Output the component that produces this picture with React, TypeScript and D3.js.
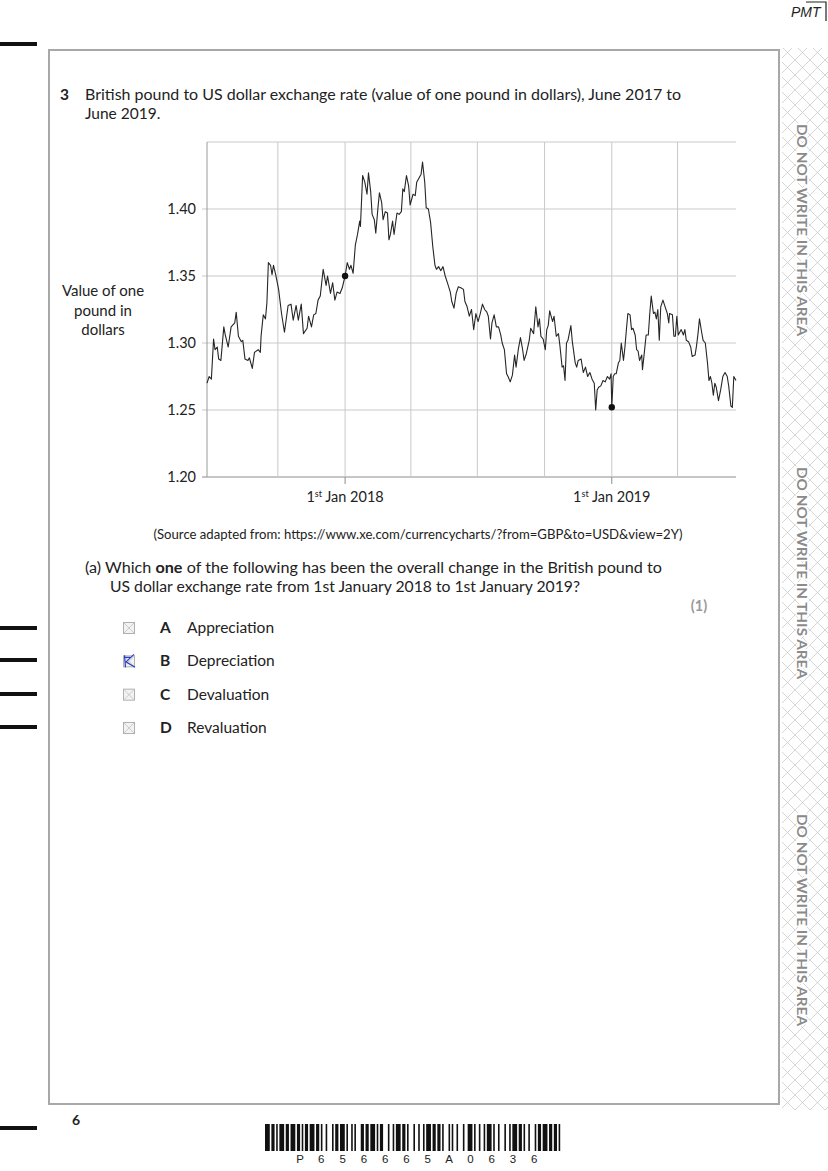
import React from 'react';
import * as d3 from 'd3';

// GBP -> USD, sampled from the xe.com chart: [days after 26 Jun 2017, dollars]
const rates: [number, number][] = [
  [0, 1.27], [3, 1.275], [6, 1.273], [9, 1.303], [11, 1.295], [14, 1.297], [16, 1.288], [19, 1.287],
  [23, 1.312], [25, 1.306], [29, 1.297], [33, 1.312], [38, 1.315], [40, 1.323], [43, 1.305], [47, 1.301],
  [49, 1.302], [52, 1.288], [56, 1.287], [58, 1.289], [62, 1.281], [65, 1.293], [70, 1.295], [73, 1.293],
  [74, 1.305], [77, 1.321], [80, 1.318], [82, 1.33], [84, 1.36], [87, 1.358], [89, 1.351], [91, 1.358],
  [94, 1.351], [98, 1.34], [102, 1.322], [106, 1.308], [111, 1.328], [115, 1.329], [118, 1.317], [122, 1.328],
  [125, 1.317], [129, 1.329], [132, 1.307], [137, 1.311], [139, 1.32], [143, 1.312], [146, 1.321], [149, 1.322],
  [152, 1.332], [155, 1.335], [157, 1.345], [159, 1.355], [163, 1.343], [165, 1.35], [169, 1.337], [172, 1.345],
  [175, 1.332], [178, 1.338], [182, 1.337], [185, 1.341], [189, 1.35], [192, 1.36], [195, 1.355], [197, 1.358],
  [200, 1.352], [203, 1.373], [206, 1.381], [209, 1.391], [210, 1.387], [213, 1.425], [216, 1.42], [219, 1.411],
  [221, 1.427], [224, 1.413], [226, 1.396], [229, 1.392], [231, 1.382], [234, 1.401], [236, 1.412], [239, 1.405],
  [241, 1.392], [244, 1.398], [247, 1.397], [249, 1.377], [251, 1.381], [254, 1.391], [256, 1.381], [260, 1.397],
  [263, 1.396], [266, 1.398], [268, 1.415], [270, 1.413], [273, 1.425], [276, 1.417], [278, 1.403], [282, 1.411],
  [285, 1.41], [287, 1.42], [290, 1.423], [293, 1.426], [295, 1.435], [298, 1.42], [300, 1.401], [303, 1.4],
  [306, 1.39], [309, 1.372], [312, 1.358], [314, 1.355], [317, 1.357], [320, 1.354], [323, 1.357], [326, 1.35],
  [329, 1.345], [333, 1.338], [335, 1.331], [338, 1.326], [341, 1.337], [344, 1.342], [348, 1.341], [351, 1.34],
  [353, 1.331], [356, 1.327], [359, 1.32], [362, 1.325], [365, 1.31], [368, 1.322], [371, 1.316], [374, 1.322],
  [377, 1.329], [380, 1.325], [383, 1.323], [385, 1.32], [388, 1.303], [390, 1.315], [393, 1.321], [396, 1.312],
  [399, 1.312], [402, 1.306], [404, 1.3], [407, 1.295], [410, 1.277], [412, 1.275], [415, 1.271], [418, 1.276],
  [421, 1.291], [423, 1.282], [426, 1.295], [429, 1.304], [432, 1.295], [434, 1.287], [437, 1.292], [441, 1.302],
  [443, 1.311], [447, 1.307], [450, 1.327], [453, 1.312], [455, 1.318], [457, 1.305], [460, 1.303], [463, 1.295],
  [465, 1.31], [467, 1.313], [469, 1.324], [473, 1.316], [475, 1.32], [478, 1.305], [481, 1.307], [483, 1.298],
  [486, 1.282], [488, 1.283], [490, 1.272], [492, 1.3], [494, 1.302], [498, 1.313], [500, 1.301], [504, 1.285],
  [506, 1.282], [508, 1.287], [512, 1.288], [515, 1.278], [518, 1.282], [521, 1.275], [524, 1.278], [527, 1.273],
  [530, 1.27], [532, 1.25], [534, 1.265], [536, 1.267], [539, 1.268], [542, 1.272], [545, 1.271], [548, 1.275],
  [551, 1.273], [553, 1.277], [554, 1.252], [556, 1.275], [558, 1.277], [560, 1.277], [563, 1.285], [565, 1.287],
  [567, 1.3], [570, 1.287], [572, 1.297], [574, 1.31], [576, 1.322], [579, 1.321], [581, 1.31], [583, 1.311],
  [586, 1.306], [588, 1.295], [590, 1.294], [592, 1.287], [595, 1.291], [596, 1.28], [598, 1.29], [601, 1.306],
  [604, 1.306], [606, 1.322], [608, 1.335], [611, 1.322], [613, 1.323], [615, 1.318], [617, 1.325], [619, 1.302],
  [621, 1.327], [624, 1.332], [627, 1.327], [630, 1.322], [632, 1.315], [633, 1.322], [637, 1.321], [639, 1.305],
  [641, 1.305], [643, 1.32], [645, 1.306], [647, 1.308], [649, 1.31], [652, 1.306], [654, 1.31], [656, 1.302],
  [659, 1.301], [662, 1.297], [664, 1.29], [668, 1.291], [670, 1.298], [672, 1.307], [674, 1.318], [677, 1.308],
  [679, 1.302], [682, 1.3], [685, 1.285], [687, 1.272], [689, 1.275], [691, 1.27], [693, 1.261], [695, 1.27],
  [697, 1.267], [700, 1.257], [703, 1.265], [706, 1.275], [709, 1.278], [712, 1.275], [714, 1.268], [717, 1.253],
  [719, 1.252], [721, 1.275], [724, 1.272],
];

const markedDays = [189, 554]; // 1st Jan 2018, 1st Jan 2019
const yTicks = [1.2, 1.25, 1.3, 1.35, 1.4];
const gridDates = ['2017-10-01', '2018-01-01', '2018-04-01', '2018-07-01', '2018-10-01', '2019-01-01', '2019-04-01'];
const xLabelDates = ['2018-01-01', '2019-01-01'];
const xLabelYears = ['2018', '2019'];
const optionLetters = ['A', 'B', 'C', 'D'];
const optionWords = ['Appreciation', 'Depreciation', 'Devaluation', 'Revaluation'];
const ticked = 'B';
const barcodeText = 'P656665A0636';
const barcodeWidths = '3121113121312111213121121311213112111321213111231211312113121211312121131112131231121211311213121131211213112131212113';

const FONT = 'Lato, "Open Sans", sans-serif';
const start = new Date(Date.UTC(2017, 5, 26));
const end = new Date(Date.UTC(2019, 5, 20));

export default function App() {
  const x = d3.scaleUtc().domain([start, end]).range([207, 736]);
  const y = d3.scaleLinear().domain([1.2, 1.45]).range([477, 142]);
  const dayDate = (d: number) => d3.utcDay.offset(start, d);

  const line = d3
    .line<[number, number]>()
    .x((d) => x(dayDate(d[0])))
    .y((d) => y(d[1]));

  const optionY = d3.scalePoint<string>().domain(optionLetters).range([628, 728]);

  // barcode bars
  const bars: { x: number; w: number }[] = [];
  const unit = 300 / d3.sum(barcodeWidths.split('').map(Number));
  let bx = 265;
  barcodeWidths.split('').forEach((c, i) => {
    const w = +c * unit;
    if (i % 2 === 0) bars.push({ x: bx, w });
    bx += w;
  });

  const leftBars = [44, 628, 660, 694, 727, 1128];
  const warnY = [230, 573, 920];

  return (
    <svg
      width={828}
      height={1171}
      style={{ position: 'absolute', left: 0, top: 0, background: '#fff' }}
      fontFamily={FONT}
    >
      <defs>
        <pattern id="hatch" patternUnits="userSpaceOnUse" width={15} height={15}>
          <path d="M0,0L15,15M15,0L0,15" stroke="#c4c4c4" strokeWidth={0.7} />
        </pattern>
      </defs>
      <rect width={828} height={1171} fill="#fff" />

      {/* header mark */}
      <text x={791} y={17} fontSize={14} fontStyle="italic" fontFamily="'Liberation Sans', Arial, sans-serif" fill="#222">
        PMT
      </text>
      <path d="M806,2H826V21" fill="none" stroke="#222" strokeWidth={1.2} />

      {/* left margin bars */}
      {leftBars.map((yy) => (
        <rect key={yy} x={0} y={yy - 2} width={37} height={4} fill="#111" />
      ))}

      {/* right strip */}
      <rect x={782} y={48} width={46} height={1062} fill="url(#hatch)" />
      {warnY.map((cy) => (
        <text
          key={cy}
          transform={`translate(797,${cy}) rotate(90)`}
          textAnchor="middle"
          fontSize={14}
          fontWeight={700}
          fill="#8a8a8a"
          stroke="#fff"
          strokeWidth={3}
          paintOrder="stroke"
          textLength={212}
          lengthAdjust="spacingAndGlyphs"
        >
          DO NOT WRITE IN THIS AREA
        </text>
      ))}

      {/* page frame */}
      <rect x={49} y={50} width={730} height={1054} fill="none" stroke="#a8a8a8" strokeWidth={2} />

      {/* question */}
      <text x={60} y={100} fontSize={15.5} fontWeight={700} fill="#222">3</text>
      <text x={85} y={100} fontSize={15.5} fill="#222" textLength={596} lengthAdjust="spacingAndGlyphs">
        British pound to US dollar exchange rate (value of one pound in dollars), June 2017 to
      </text>
      <text x={85} y={119} fontSize={15.5} fill="#222">June 2019.</text>

      {/* chart grid */}
      {yTicks.map((t) => (
        <line key={t} x1={202} x2={736} y1={y(t)} y2={y(t)} stroke={t === 1.2 ? '#8c8c8c' : '#c9c9c9'} strokeWidth={1} />
      ))}
      <line x1={207} x2={736} y1={y(1.45)} y2={y(1.45)} stroke="#c9c9c9" />
      {gridDates.map((d) => {
        const gx = x(new Date(d + 'T00:00:00Z'));
        return <line key={d} x1={gx} x2={gx} y1={142} y2={477} stroke="#c9c9c9" />;
      })}
      <line x1={207} x2={207} y1={142} y2={477} stroke="#9a9a9a" />
      {xLabelDates.map((d, i) => {
        const lx = x(new Date(d + 'T00:00:00Z'));
        return (
          <g key={d}>
            <line x1={lx} x2={lx} y1={477} y2={484} stroke="#8c8c8c" />
            <text x={lx} y={502} textAnchor="middle" fontSize={14.5} fill="#222">
              1<tspan fontSize={9} dy={-5}>st</tspan>
              <tspan dy={5}> Jan {xLabelYears[i]}</tspan>
            </text>
          </g>
        );
      })}
      {yTicks.map((t) => (
        <text key={t} x={196} y={y(t) + 5} textAnchor="end" fontSize={14.5} fill="#222">
          {t.toFixed(2)}
        </text>
      ))}
      <g fontSize={15} fill="#222" textAnchor="middle">
        <text x={103} y={296}>Value of one</text>
        <text x={103} y={316}>pound in</text>
        <text x={103} y={335}>dollars</text>
      </g>

      <path d={line(rates) ?? ''} fill="none" stroke="#262626" strokeWidth={1.1} strokeLinejoin="round" />
      {markedDays.map((d) => {
        const p = rates.find((r) => r[0] === d)!;
        return <circle key={d} cx={x(dayDate(p[0]))} cy={y(p[1])} r={3.2} fill="#111" />;
      })}

      <text x={418} y={539} textAnchor="middle" fontSize={12.5} fill="#222" textLength={529} lengthAdjust="spacingAndGlyphs">
        (Source adapted from: https://www.xe.com/currencycharts/?from=GBP&amp;to=USD&amp;view=2Y)
      </text>

      {/* part (a) */}
      <text x={85} y={573} fontSize={15.5} fill="#222" textLength={577} lengthAdjust="spacingAndGlyphs">
        (a) Which <tspan fontWeight={700}>one</tspan> of the following has been the overall change in the British pound to
      </text>
      <text x={110} y={592} fontSize={15.5} fill="#222" textLength={470} lengthAdjust="spacingAndGlyphs">
        US dollar exchange rate from 1st January 2018 to 1st January 2019?
      </text>
      <text x={699} y={611} textAnchor="middle" fontSize={14.5} fontWeight={700} fill="#9a9a9a">(1)</text>

      {optionLetters.map((l, i) => {
        const cy = optionY(l)!;
        return (
          <g key={l}>
            <rect x={123.5} y={cy - 5.5} width={11} height={11} fill="#f2f2f2" stroke="#b0b0b0" strokeWidth={1} />
            <path d={`M124,${cy - 5}L134,${cy + 5}M134,${cy - 5}L124,${cy + 5}`} stroke="#c0c0c0" strokeWidth={0.8} />
            {l === ticked && (
              <path
                d={`M124.5,${cy - 6}L125.5,${cy + 6}M134,${cy - 7}L126,${cy + 0.5}L135,${cy + 6}M124,${cy - 4}L131,${cy - 4}`}
                fill="none"
                stroke="#2b3fc4"
                strokeWidth={1.2}
              />
            )}
            <text x={160} y={cy + 5} fontSize={15.5} fontWeight={700} fill="#222">{l}</text>
            <text x={187} y={cy + 5} fontSize={15.5} fill="#222">{optionWords[i]}</text>
          </g>
        );
      })}

      {/* footer */}
      <text x={72} y={1125} fontSize={14} fontWeight={700} fill="#222">6</text>
      {bars.map((b, i) => (
        <rect key={i} x={b.x} y={1124} width={b.w} height={27} fill="#111" />
      ))}
      {barcodeText.split('').map((c, i) => (
        <text
          key={i}
          x={300 + i * 21.3}
          y={1163}
          textAnchor="middle"
          fontSize={11.5}
          fontFamily="'Liberation Sans', Arial, sans-serif"
          fill="#222"
        >
          {c}
        </text>
      ))}
    </svg>
  );
}
